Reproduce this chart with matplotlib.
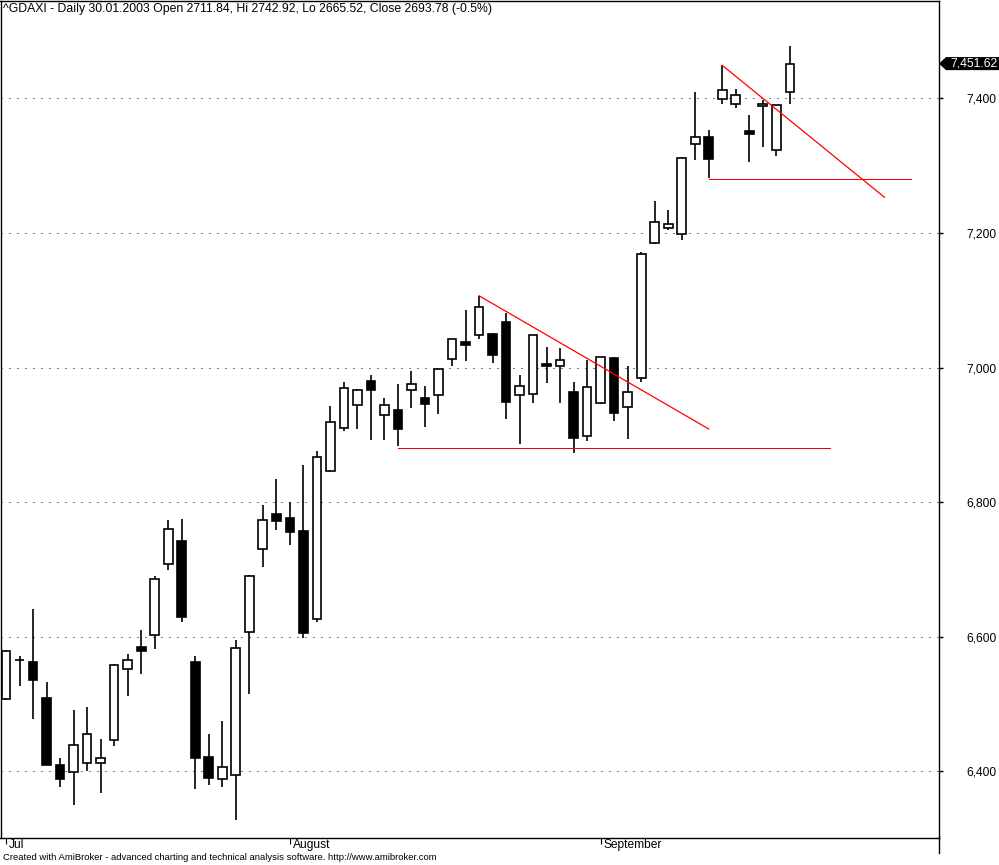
import matplotlib
matplotlib.use("Agg")
import matplotlib.pyplot as plt
from matplotlib.patches import Polygon
from matplotlib.lines import Line2D
import matplotlib.transforms as mtransforms

plt.rcParams['font.family'] = ['Liberation Sans', 'DejaVu Sans']

title = "^GDAXI - Daily 30.01.2003 Open 2711.84, Hi 2742.92, Lo 2665.52, Close 2693.78 (-0.5%)"
footer = "Created with AmiBroker - advanced charting and technical analysis software. http://www.amibroker.com"

# daily bars (index 0 = first visible bar)
opens = [6508, 6565, 6562, 6509, 6409, 6399, 6413, 6412, 6446, 6552,
         6585, 6602, 6708, 6742, 6562, 6421, 6388, 6394, 6607, 6730,
         6782, 6776, 6757, 6627, 6846, 6910, 6945, 6980, 6929, 6937,
         6966, 6955, 6959, 7012, 7038, 7049, 7050, 7068, 6959, 6960,
         7005, 7003, 6964, 6898, 6947, 7014, 6942, 6985, 7185, 7208,
         7198, 7332, 7342, 7399, 7391, 7351, 7388, 7323, 7410]
highs = [6580, 6572, 6641, 6533, 6419, 6491, 6496, 6448, 6559, 6575,
         6610, 6690, 6773, 6775, 6571, 6455, 6475, 6595, 6691, 6796,
         6834, 6800, 6855, 6876, 6943, 6978, 6968, 6989, 6955, 6976,
         6995, 6972, 7000, 7043, 7085, 7107, 7051, 7081, 6989, 7049,
         7031, 7029, 6979, 7011, 7016, 7016, 7003, 7171, 7247, 7234,
         7313, 7409, 7353, 7449, 7414, 7375, 7398, 7390, 7478]
lows = [6506, 6527, 6477, 6409, 6377, 6350, 6401, 6368, 6438, 6512,
        6545, 6581, 6699, 6622, 6373, 6380, 6377, 6327, 6515, 6704,
        6758, 6737, 6598, 6622, 6845, 6905, 6909, 6893, 6893, 6884,
        6940, 6912, 6931, 7003, 7010, 7043, 7007, 6924, 6887, 6948,
        6977, 6948, 6873, 6891, 6946, 6921, 6894, 6979, 7183, 7205,
        7189, 7309, 7282, 7391, 7385, 7306, 7328, 7315, 7392]
closes = [6578, 6565, 6536, 6410, 6388, 6439, 6455, 6419, 6558, 6566,
          6578, 6685, 6760, 6630, 6419, 6390, 6407, 6583, 6690, 6774,
          6772, 6755, 6606, 6867, 6919, 6969, 6966, 6966, 6945, 6909,
          6975, 6946, 6998, 7042, 7034, 7090, 7018, 6949, 6972, 7048,
          7003, 7011, 6896, 6971, 7015, 6933, 6964, 7168, 7216, 7214,
          7311, 7343, 7310, 7413, 7405, 7347, 7391, 7390, 7451.62]

month_pos = [0, 21, 44]
month_names = ["Jul", "August", "September"]

# hand-drawn studies: (x0, y0, x1, y1)
trend_lines = [
    (35, 7106.7, 52, 6908.6),
    (29, 6880, 61, 6880),
    (53, 7449, 65, 7253),
    (52, 7280, 67, 7280),
]

y_ticks = [6400, 6600, 6800, 7000, 7200, 7400]

fig = plt.figure(figsize=(9.99, 8.65), dpi=100)
W, H = 999, 865
ax = fig.add_axes([0.5 / W, 1 - 837.7 / H, 938 / W, 837.2 / H])
ax.set_xlim(-0.41, 69.0)
ax.set_ylim(6301.3, 7545.4)

# dotted grid
for v in y_ticks:
    ax.axhline(v, color='black', linestyle=(0, (1, 7)), linewidth=0.72, zorder=1)

# candles
x = list(range(len(opens)))
ax.vlines(x, lows, highs, color='black', linewidth=1.2, zorder=2)
for i in x:
    o, c = opens[i], closes[i]
    up = c >= o
    ax.bar(i, abs(c - o), bottom=min(o, c), width=0.64,
           facecolor='white' if up else 'black', edgecolor='black',
           linewidth=1.2, zorder=3)

for x0, y0, x1, y1 in trend_lines:
    flat = y0 == y1
    ax.plot([x0, x1], [y0, y1], color='red', linewidth=0.72 if flat else 0.9,
            zorder=4, antialiased=not flat)

for s in ax.spines.values():
    s.set_linewidth(1.0)
    s.set_color('black')

ax.yaxis.tick_right()
ax.set_yticks(y_ticks)
ax.set_yticklabels([f"{v:,}" for v in y_ticks], fontsize=8.64)
ax.tick_params(axis='y', direction='out', length=2.9, width=1.0, pad=17.3)
ax.set_xticks(month_pos)
ax.set_xticklabels([])
ax.tick_params(axis='x', direction='out', length=4.3, width=0.8)
for p, name in zip(month_pos, month_names):
    ax.annotate(name, xy=(p, 0), xycoords=('data', 'axes fraction'),
                xytext=(1.9, -5.4), textcoords='offset points',
                ha='left', va='center', fontsize=8.64)

# right spine runs down past the date strip
fig.add_artist(Line2D([938.7 / W, 938.7 / W], [1 - 837 / H, 1 - 853 / H],
                      color='black', linewidth=1.0, transform=fig.transFigure))

# last price marker
last = closes[-1]
tr = mtransforms.blended_transform_factory(fig.transFigure, ax.transData)
h = 9.7
pts = [(939 / W, last), (946 / W, last + h), (999 / W, last + h),
       (999 / W, last - h), (946 / W, last - h)]
fig.add_artist(Polygon(pts, closed=True, facecolor='black', edgecolor='none',
                       transform=tr, clip_on=False))
fig.text(950 / W, last, f"{last:,.2f}", transform=tr, color='white',
         fontsize=8.8, va='center', ha='left')

fig.text(3 / W, 1 - 9 / H, title, fontsize=8.8, va='center', ha='left')
fig.text(3 / W, 1 - 858 / H, footer, fontsize=6.8, va='center', ha='left')

fig.savefig("out.png", dpi=100)
